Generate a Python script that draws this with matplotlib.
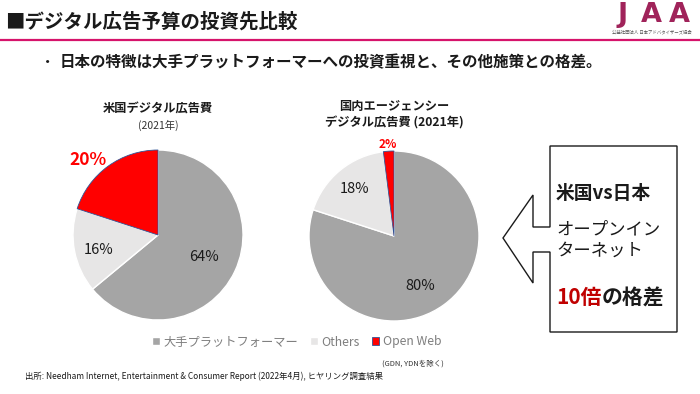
import matplotlib
matplotlib.use("Agg")
import matplotlib.pyplot as plt
from matplotlib.patches import Polygon
import numpy as np

plt.rcParams['font.family'] = ['Noto Sans CJK JP', 'DejaVu Sans']

# ---- data ----
categories = ['大手プラットフォーマー', 'Others', 'Open Web']
us_values = [64, 16, 20]
jp_values = [80, 18, 2]
us_title = ['米国デジタル広告費', '(2021年)']
jp_title = ['国内エージェンシー', 'デジタル広告費 (2021年)']
colors = ['#A5A5A5', '#E7E6E6', '#FF0000']

W, H = 700, 394
fig = plt.figure(figsize=(W / 100, H / 100), dpi=100)
fig.patch.set_facecolor('white')

# overlay axes in pixel coordinates
ov = fig.add_axes([0, 0, 1, 1])
ov.set_xlim(0, W)
ov.set_ylim(H, 0)
ov.axis('off')

# header
ov.text(5, 22, '■デジタル広告予算の投資先比較', fontsize=14, fontweight='bold',
        va='center', ha='left', color='#1a1a1a')
ov.plot([0, W], [39.5, 39.5], color='#D6136B', lw=1.6, solid_capstyle='butt')
for lx, letter in zip([623, 651, 679], 'JAA'):
    ov.text(lx, 15, letter, fontsize=19.5, fontweight='bold', color='#A0235A',
            va='center', ha='center', family='DejaVu Sans')
ov.text(652, 32, '公益社団法人 日本アドバタイザーズ協会', fontsize=3.2,
        color='#555555', va='center', ha='center')
ov.text(40, 62, '・', fontsize=11, va='center', ha='left', color='#1a1a1a')
ov.text(60, 62, '日本の特徴は大手プラットフォーマーへの投資重視と、その他施策との格差。',
        fontsize=11.2, fontweight='bold', va='center', ha='left', color='#1a1a1a')


def draw_pie(cx, cy, r, values, label_r, label_da, label_styles):
    ax = fig.add_axes([(cx - r) / W, (H - cy - r) / H, 2 * r / W, 2 * r / H])
    wedges, _ = ax.pie(values, colors=colors, startangle=90, counterclock=False,
                       radius=1, wedgeprops=dict(edgecolor='white', linewidth=1))
    wedges[2].set_edgecolor('#2F5597')
    wedges[2].set_linewidth(0.6)
    for w, v, lr, da, st in zip(wedges, values, label_r, label_da, label_styles):
        ang = np.deg2rad((w.theta1 + w.theta2) / 2 + da)
        ax.text(lr * np.cos(ang), lr * np.sin(ang), f'{v}%', ha='center',
                va='center', **st)
    ax.set_xlim(-1, 1)
    ax.set_ylim(-1, 1)
    ax.axis('off')
    return wedges


normal = dict(fontsize=10.5, color='#1a1a1a')
w1 = draw_pie(158, 235, 85, us_values, [0.6, 0.72, 1.2], [0, 3, 7],
              [normal, normal, dict(fontsize=12.5, fontweight='bold', color='#FF0000')])
w2 = draw_pie(394, 236, 85, jp_values, [0.66, 0.72, 1.08], [-8, 0, 0],
              [normal, normal, dict(fontsize=8.5, fontweight='bold', color='#FF0000')])

# pie titles
ov.text(158, 109, us_title[0], fontsize=8.8, fontweight='bold', ha='center', va='center', color='#1a1a1a')
ov.text(158, 125, us_title[1], fontsize=7.5, ha='center', va='center', color='#333333')
ov.text(394, 106, jp_title[0], fontsize=8.8, fontweight='bold', ha='center', va='center', color='#1a1a1a')
ov.text(394, 123, jp_title[1], fontsize=8.8, fontweight='bold', ha='center', va='center', color='#1a1a1a')

# legend
leg = fig.legend(w2, categories, loc='center', bbox_to_anchor=(297 / W, 1 - 342 / H),
                 ncol=3, frameon=False, fontsize=8.8, handlelength=0.6, handleheight=0.6,
                 handletextpad=0.3, columnspacing=1.0, labelcolor='#7F7F7F')
ov.text(382, 364, '(GDN, YDNを除く)', fontsize=5.4, ha='left', va='center', color='#333333')
ov.text(25, 376, '出所: Needham Internet, Entertainment & Consumer Report (2022年4月), ヒヤリング調査結果',
        fontsize=6.0, ha='left', va='center', color='#1a1a1a')

# right box with arrow
box_x0, box_x1, box_y0, box_y1 = 550, 677, 146, 332
pts = [(box_x0, 227), (box_x0, box_y0), (box_x1, box_y0), (box_x1, box_y1),
       (box_x0, box_y1), (box_x0, 252), (533, 252), (533, 283), (503, 238),
       (533, 195), (533, 227)]
ov.add_patch(Polygon(pts, closed=True, facecolor='white', edgecolor='#1a1a1a', lw=1.0))
ov.text(556, 193, '米国vs日本', fontsize=13.5, fontweight='bold', ha='left', va='center', color='#1a1a1a')
ov.text(556, 229, 'オープンイン', fontsize=12.5, ha='left', va='center', color='#1a1a1a')
ov.text(556, 251, 'ターネット', fontsize=12.5, ha='left', va='center', color='#1a1a1a')
t1 = ov.text(556, 298, '10倍', fontsize=15, fontweight='bold', ha='left', va='center', color='#C00000')
fig.canvas.draw()
bb = t1.get_window_extent()
ov.text(556 + bb.width, 298, 'の格差', fontsize=15, fontweight='bold', ha='left', va='center', color='#1a1a1a')

fig.savefig('out.png', dpi=100, facecolor='white')
